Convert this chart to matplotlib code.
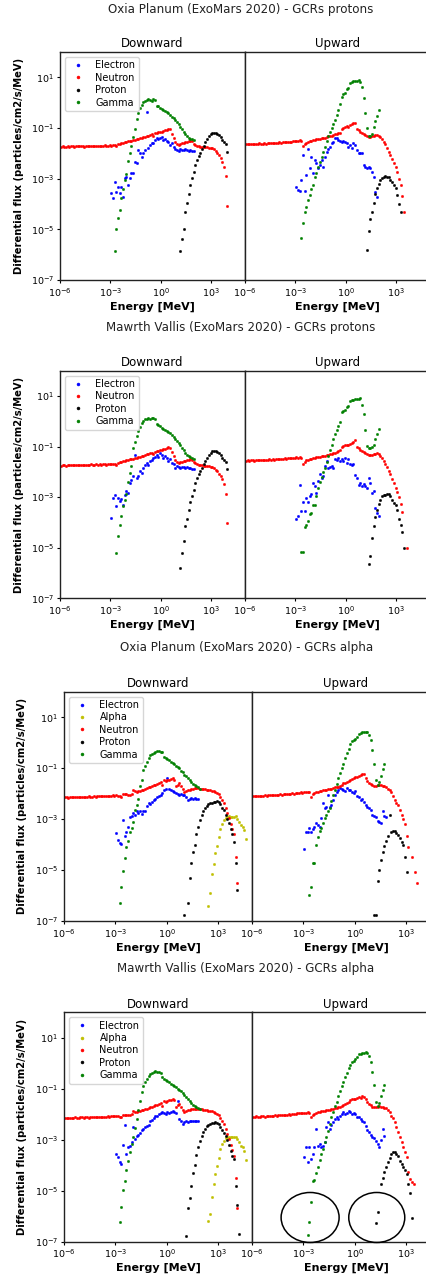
import numpy as np
import matplotlib
matplotlib.use("Agg")
import matplotlib.pyplot as plt
from matplotlib.patches import Ellipse
from matplotlib.ticker import NullLocator
import matplotlib.transforms as mtransforms

# ---------------------------------------------------------------------------
# DATA: each series = (log10 of first energy bin [MeV], log10 flux per 0.1-decade bin)
# None = empty bin (no point drawn)
# ---------------------------------------------------------------------------
BIN_WIDTH_DECADES = 0.1

# ---------- Oxia Planum - GCRs protons ----------
ox_p_down_electron = (-2.95, [-3.58, -3.78, -3.12, -3.51, -3.32, -3.58, -3.32, -3.71, -2.99, -2.92,
                              -3.25, -2.99, -2.79, -2.79, -2.33, -2.39, -1.87, -2.0, -2.13, -2.0,
                              -1.87, -0.38, -1.8, -1.67, -1.61, -1.58, -1.47, -1.41, -1.45, -1.41,
                              -1.37, -1.47, -1.45, -1.5, -1.54, -1.67, -1.61, -1.74, -1.84, -1.87,
                              -1.89, -1.84, -1.87, -1.87, -1.84, -1.87, -1.89, -1.87, -1.89, -1.92])
ox_p_down_neutron = (-5.95, [-1.74, -1.73, -1.75, -1.74, -1.72, -1.74, -1.73, -1.72, -1.74, -1.73,
                             -1.72, -1.73, -1.71, -1.72, -1.74, -1.72, -1.71, -1.73, -1.72, -1.71,
                             -1.72, -1.70, -1.71, -1.72, -1.70, -1.71, -1.69, -1.71, -1.70, -1.69,
                             -1.70, -1.68, -1.69, -1.72, -1.64, -1.62, -1.60, -1.58, -1.56, -1.55,
                             -1.52, -1.53, -1.50, -1.47, -1.46, -1.44, -1.42, -1.40, -1.38, -1.36,
                             -1.35, -1.30, -1.32, -1.26, -1.24, -1.30, -1.20, -1.18, -1.16, -1.14,
                             -1.15, -1.12, -1.08, -1.06, -1.03, -1.05, -1.25, -1.40, -1.55, -1.65,
                             -1.66, -1.62, -1.60, -1.58, -1.57, -1.55, -1.52, -1.50, -1.53, -1.62,
                             -1.68, -1.70, -1.72, -1.74, -1.74, -1.75, -1.76, -1.76, -1.77, -1.79,
                             -1.80, -1.84, -1.90, -1.97, -2.08, -2.20, -2.36, -2.55, -2.90, -4.07])
ox_p_down_proton = (1.15, [-5.85, -5.4, -5.0, -4.3, -3.95, -3.6, -3.25, -2.98, -2.72, -2.47,
                           -2.25, -2.1, -1.97, -1.84, -1.7, -1.57, -1.44, -1.32, -1.24, -1.2,
                           -1.2, -1.21, -1.22, -1.28, -1.36, -1.46, -1.55, -1.62, -1.93])
ox_p_down_gamma = (-2.75, [-5.86, -5.0, -4.57, -4.24, -3.75, -3.4, -3.05, -2.8, -2.3, -2.0,
                           -1.72, -1.36, -1.02, -0.66, -0.42, -0.22, -0.08, 0.02, 0.06, 0.1,
                           0.13, 0.12, 0.08, 0.13, 0.1, -0.12, -0.15, -0.2, -0.25, -0.3,
                           -0.33, -0.38, -0.42, -0.48, -0.55, -0.62, -0.7, -0.78, -0.85, -0.95,
                           -1.05, -1.15, -1.25, -1.32, -1.38, -1.42, -1.45, -1.48])

ox_p_up_electron = (-2.95, [-3.32, -3.45, -3.47, -3.05, -2.08, -3.49, -2.86, -1.83, -2.59, -2.16,
                            -2.79, -2.26, -2.39, -2.59, -2.46, -2.26, -2.53, -2.13, -1.93, -1.84,
                            -1.74, -1.61, -1.54, -1.41, -1.41, -1.47, -1.5, -1.54, -1.5, -1.54,
                            -1.61, -1.74, -1.67, -1.8, -1.61, -1.67, -1.87, -2.0, -2.0, -2.0,
                            -2.46, -2.53, -2.59, -2.53, -2.59, -2.72, -2.92, -3.51, -3.71])
ox_p_up_neutron = (-5.95, [-1.64, -1.65, -1.63, -1.64, -1.62, -1.63, -1.64, -1.62, -1.61, -1.63,
                           -1.62, -1.60, -1.62, -1.60, -1.61, -1.59, -1.60, -1.58, -1.60, -1.58,
                           -1.57, -1.58, -1.56, -1.57, -1.55, -1.56, -1.54, -1.55, -1.53, -1.52,
                           -1.52, -1.50, -1.48, -1.50, -1.71, -1.62, -1.58, -1.55, -1.52, -1.50,
                           -1.47, -1.48, -1.45, -1.44, -1.42, -1.41, -1.40, -1.38, -1.36, -1.33,
                           -1.32, -1.30, -1.28, -1.25, -1.22, -1.20, -1.18, -1.05, -1.00, -0.95,
                           -0.92, -0.96, -0.90, -0.85, -0.82, -0.79, -1.02, -1.08, -1.14, -1.18,
                           -1.22, -1.26, -1.32, -1.36, -1.37, -1.33, -1.30, -1.29, -1.28, -1.30,
                           -1.37, -1.45, -1.54, -1.65, -1.80, -1.93, -2.07, -2.22, -2.39, -2.55,
                           -2.72, -3.00, -3.25, -3.67, -4.30])
ox_p_up_proton = (1.25, [-5.82, -5.05, -4.6, -4.3, -3.95, -3.6, -3.35, -3.2, -3.05, -2.98,
                         -2.93, -2.9, -2.92, -2.95, -3.05, -3.15, -3.25, -3.35, -3.65, -4.0, -4.3])
ox_p_up_gamma = (-2.65, [-5.35, -4.74, -4.3, -4.1, -3.85, -3.65, -3.4, -3.25, -2.95, -2.78,
                         -2.55, -2.35, -2.13, -1.95, -1.74, -1.52, -1.32, -1.15, -1.0, -0.85,
                         -0.68, -0.5, -0.3, -0.05, 0.22, 0.36, 0.4, 0.52, 0.58, 0.78,
                         0.82, 0.84, 0.86, 0.87, 0.88, 0.8, 0.6, 0.2, -0.4, -1.0,
                         -1.3, -1.3, -1.22, -0.95, -0.72, -0.52, -0.3])

# ---------- Mawrth Vallis - GCRs protons ----------
mv_p_down_electron = (-2.95, [-3.83, -3.03, -2.9, -3.36, -3.03, -3.16, -3.09, -3.3, -2.9, -2.77,
                              -2.83, -2.44, -2.31, -2.17, -1.32, -2.24, -2.17, -1.98, -2.04, -1.84,
                              -1.71, -1.65, -1.71, -1.58, -1.55, -1.47, -1.42, -1.32, -1.42, -1.25,
                              -1.34, -1.45, -1.38, -1.47, -1.58, -1.51, -1.65, -1.69, -1.84, -1.78,
                              -1.82, -1.84, -1.79, -1.82, -1.84, -1.82, -1.84, -1.84, -1.87, -1.87])
mv_p_down_neutron = (-5.95, [-1.75, -1.74, -1.73, -1.75, -1.73, -1.74, -1.72, -1.73, -1.74, -1.72,
                             -1.73, -1.72, -1.72, -1.71, -1.73, -1.71, -1.72, -1.72, -1.70, -1.72,
                             -1.71, -1.70, -1.72, -1.70, -1.71, -1.69, -1.70, -1.71, -1.68, -1.70,
                             -1.69, -1.68, -1.70, -1.73, -1.65, -1.62, -1.61, -1.58, -1.57, -1.54,
                             -1.53, -1.51, -1.50, -1.48, -1.45, -1.45, -1.41, -1.40, -1.37, -1.37,
                             -1.34, -1.31, -1.30, -1.27, -1.25, -1.28, -1.21, -1.18, -1.17, -1.13,
                             -1.14, -1.11, -1.09, -1.05, -1.02, -1.06, -1.22, -1.38, -1.52, -1.63,
                             -1.65, -1.63, -1.61, -1.58, -1.56, -1.54, -1.52, -1.50, -1.52, -1.60,
                             -1.66, -1.69, -1.71, -1.73, -1.74, -1.76, -1.75, -1.77, -1.78, -1.80,
                             -1.81, -1.85, -1.91, -1.98, -2.07, -2.18, -2.30, -2.47, -2.87, -4.03])
mv_p_down_proton = (1.15, [-5.81, -5.19, -4.75, -4.16, -3.85, -3.5, -3.2, -2.95, -2.7, -2.45,
                           -2.25, -2.1, -1.97, -1.84, -1.7, -1.57, -1.44, -1.32, -1.24, -1.18,
                           -1.17, -1.18, -1.2, -1.26, -1.34, -1.44, -1.53, -1.6, -1.88])
mv_p_down_gamma = (-2.65, [-5.2, -4.52, -4.12, -3.76, -3.35, -3.1, -2.87, -2.4, -2.05, -1.76,
                           -1.06, -0.8, -0.6, -0.4, -0.22, -0.08, 0.02, 0.08, 0.1, 0.13,
                           0.1, 0.14, 0.12, 0.08, -0.1, -0.15, -0.2, -0.25, -0.3, -0.34,
                           -0.38, -0.43, -0.48, -0.55, -0.62, -0.7, -0.78, -0.86, -0.95, -1.05,
                           -1.15, -1.25, -1.32, -1.38, -1.42, -1.45, -1.48])

mv_p_up_electron = (-2.95, [-3.85, -3.76, -2.5, -3.53, -3.19, -3.53, -3.03, -3.19, -2.96, -2.87,
                            -2.44, -2.57, -2.84, -2.37, -2.08, -2.24, -2.17, -1.78, -1.58, -1.84,
                            -1.82, -1.78, -1.84, -1.51, -1.55, -1.47, -1.58, -1.51, -1.58, -1.45,
                            -1.65, -1.51, -1.69, -1.71, -1.69, -2.13, -2.24, -2.5, -2.44, -2.57,
                            -2.48, -2.57, -2.64, -2.24, -2.44, -2.83, -2.77, -3.43, -3.63, -3.76])
mv_p_up_neutron = (-5.95, [-1.56, -1.55, -1.57, -1.55, -1.54, -1.56, -1.55, -1.53, -1.54, -1.55,
                           -1.53, -1.54, -1.52, -1.53, -1.51, -1.52, -1.50, -1.52, -1.50, -1.49,
                           -1.50, -1.48, -1.49, -1.47, -1.48, -1.46, -1.47, -1.45, -1.44, -1.45,
                           -1.43, -1.44, -1.42, -1.45, -1.69, -1.60, -1.55, -1.52, -1.50, -1.48,
                           -1.46, -1.45, -1.43, -1.42, -1.40, -1.39, -1.38, -1.36, -1.35, -1.32,
                           -1.30, -1.28, -1.26, -1.24, -1.21, -1.18, -1.15, -1.02, -0.98, -0.94,
                           -0.92, -0.95, -0.88, -0.84, -0.80, -0.76, -1.00, -1.06, -1.12, -1.16,
                           -1.20, -1.24, -1.30, -1.33, -1.35, -1.32, -1.29, -1.28, -1.27, -1.30,
                           -1.38, -1.46, -1.56, -1.68, -1.82, -1.96, -2.10, -2.28, -2.45, -2.62,
                           -2.80, -3.00, -3.26, -3.60, None, None, -5.02])
mv_p_up_proton = (1.35, [-5.65, -5.34, -4.62, -4.16, -3.8, -3.5, -3.27, -3.1, -2.97, -2.93,
                         -2.9, -2.88, -2.87, -2.95, -3.12, -3.22, -3.3, -3.5, -3.85, -4.1,
                         -4.38, -5.0])
mv_p_up_gamma = (-2.65, [-5.15, -5.17, -4.18, -4.1, -3.95, -3.65, -3.63, -3.32, -3.3, -2.95,
                         -2.65, -2.4, -2.2, -2.0, -1.85, -1.6, -1.38, -1.15, -0.95, -0.72,
                         -0.52, -0.35, -0.2, -0.04, 0.38, 0.4, 0.45, 0.56, 0.62, 0.8,
                         0.84, 0.86, 0.87, 0.88, 0.9, 0.91, 0.65, 0.27, -0.33, -0.99,
                         -1.05, -1.05, -1.0, -0.95, -0.72, -0.52, -0.3])

# ---------- Oxia Planum - GCRs alpha ----------
ox_a_down_electron = (-2.95, [-3.56, -3.82, -3.95, -3.97, -3.03, -3.66, -3.5, -3.3, -2.9, -2.87,
                              -2.77, -2.83, -2.7, -2.77, -2.7, -2.8, -2.7, -2.67, -2.5, -2.38,
                              -2.4, -2.32, -2.25, -2.22, -2.14, -2.09, -2.05, -1.98, -1.85, -1.83,
                              -1.39, -1.83, -1.86, -1.9, -1.93, -1.96, -2.01, -2.07, -2.01, -2.07,
                              -2.05, -2.14, -2.26, -2.2, -2.18, -2.2, -2.18, -2.2, -2.22])
ox_a_down_alpha = (2.45, [-6.41, -5.9, -5.15, -4.75, -4.35, -4.05, -3.7, -3.4, -3.18, -3.05,
                          -2.95, -2.9, -2.88, -2.9, -2.92, -2.9, -2.88, -3.0, -3.12, -3.23,
                          -3.3, -3.43, -3.8])
ox_a_down_neutron = (-5.95, [-2.15, -2.14, -2.16, -2.14, -2.13, -2.15, -2.14, -2.13, -2.14, -2.12,
                             -2.13, -2.12, -2.14, -2.12, -2.11, -2.13, -2.12, -2.10, -2.12, -2.11,
                             -2.10, -2.11, -2.09, -2.10, -2.11, -2.08, -2.10, -2.09, -2.07, -2.09,
                             -2.06, -2.08, -2.10, -2.12, -2.01, -2.03, -2.02, -2.04, -2.05, -2.00,
                             -1.85, -1.90, -1.92, -1.90, -1.88, -1.86, -1.84, -1.80, -1.78, -1.76,
                             -1.74, -1.72, -1.67, -1.66, -1.64, -1.60, -1.56, -1.68, -1.46, -1.52,
                             -1.48, -1.45, -1.43, -1.39, -1.46, -1.72, -1.66, -1.59, -1.72, -1.83,
                             -1.92, -1.88, -1.86, -1.84, -1.82, -1.80, -1.79, -1.78, -1.79, -1.80,
                             -1.81, -1.82, -1.83, -1.84, -1.85, -1.86, -1.88, -1.90, -1.95, -1.98,
                             -2.02, -2.12, -2.25, -2.38, -2.55, -2.75, -2.95, -3.20, -3.40, -3.60,
                             -4.47, -5.52])
ox_a_down_proton = (1.05, [-6.77, None, -6.31, -5.3, -4.72, -4.3, -4.0, -3.6, -3.3, -3.05,
                           -2.85, -2.7, -2.58, -2.48, -2.42, -2.38, -2.35, -2.32, -2.31, -2.3,
                           -2.33, -2.4, -2.55, -2.66, -2.82, -2.98, -3.15, -3.4, -3.6, -3.88,
                           -4.74, -5.78])
ox_a_down_gamma = (-2.75, [-6.31, -5.65, -5.02, -4.54, -4.1, -3.85, -3.5, -3.35, -3.1, -2.65,
                           -2.45, -2.2, -1.7, -1.46, -1.09, -0.9, -0.75, -0.62, -0.5, -0.45,
                           -0.42, -0.38, -0.33, -0.32, -0.38, -0.35, -0.55, -0.6, -0.65, -0.7,
                           -0.75, -0.8, -0.85, -0.9, -0.95, -1.0, -1.1, -1.15, -1.25, -1.3,
                           -1.4, -1.48, -1.55, -1.62, -1.68, -1.72, -1.76, -1.8])

ox_a_up_electron = (-2.95, [-4.17, -3.49, -3.49, -3.36, -3.49, -3.4, -3.3, -3.16, -3.23, -3.3,
                            -2.97, -2.38, -2.58, -2.51, -2.05, -2.51, -2.45, -2.25, -2.05, -1.92,
                            -1.85, -1.79, -1.83, -1.85, -1.88, -1.79, -1.85, -1.85, -1.92, -1.98,
                            -1.88, -2.09, -2.12, -2.25, -2.22, -2.31, -2.45, -2.51, -2.58, -2.64,
                            -2.83, -2.87, -2.9, -3.06, -3.1, -3.14, -2.7, -2.87, -2.9])
ox_a_up_neutron = (-5.95, [-2.10, -2.09, -2.11, -2.09, -2.08, -2.10, -2.08, -2.07, -2.09, -2.07,
                           -2.06, -2.07, -2.05, -2.06, -2.04, -2.05, -2.03, -2.04, -2.02, -2.03,
                           -2.01, -2.02, -2.00, -1.99, -2.00, -1.98, -1.97, -1.98, -1.95, -1.96,
                           -1.94, -1.93, -1.92, -1.95, -2.14, -2.02, -1.98, -1.95, -1.92, -1.90,
                           -1.88, -1.87, -1.86, -1.85, -1.83, -1.82, -1.80, -1.78, -1.76, -1.75,
                           -1.74, -1.70, -1.65, -1.60, -1.58, -1.55, -1.50, -1.45, -1.43, -1.40,
                           -1.36, -1.33, -1.30, -1.28, -1.24, -1.22, -1.39, -1.50, -1.58, -1.62,
                           -1.68, -1.70, -1.70, -1.68, -1.66, -1.68, -1.70, -1.72, -1.75, -1.80,
                           -1.85, -1.95, -2.10, -2.25, -2.35, -2.44, -2.65, -2.84, -3.00, -3.19,
                           -3.66, -4.08, None, -4.47, None, -5.06, -5.50])
ox_a_up_proton = (1.15, [-6.75, -6.78, -5.43, -5.0, -4.6, -4.3, -4.05, -3.85, -3.65, -2.84,
                         -3.49, -3.45, -3.47, -3.55, -3.62, -3.75, -3.88, -4.02, -4.47, -5.06])
ox_a_up_gamma = (-2.65, [-5.98, -5.65, -4.74, -4.74, -4.0, -3.7, -3.45, -3.36, -3.15, -2.97,
                         -2.85, -2.7, -2.55, -2.3, -2.05, -1.85, -1.62, -1.4, -1.18, -1.0,
                         -0.82, -0.6, -0.4, -0.25, -0.05, 0.05, 0.1, 0.15, 0.22, 0.35,
                         0.38, 0.4, 0.42, 0.43, 0.42, 0.3, 0.1, -0.3, -0.85, -1.45,
                         -1.65, -1.55, -1.3, -1.05, -0.85])

# ---------- Mawrth Vallis - GCRs alpha ----------
mv_a_down_electron = (-2.95, [-3.56, -3.69, -3.88, -3.95, -3.2, -2.44, -3.56, -3.3, -3.23, -3.1,
                              -2.5, -2.97, -2.87, -2.8, -2.72, -2.63, -2.58, -2.5, -2.45, -2.44,
                              -2.28, -2.22, -2.15, -2.08, -2.05, -1.98, -1.96, -1.92, -1.96, -2.0,
                              -1.92, -1.96, -1.92, -1.88, -1.92, -1.96, -1.49, -2.18, -2.25, -2.38,
                              -2.3, -2.25, -2.32, -2.28, -2.26, -2.28, -2.25, -2.28, -2.28])
mv_a_down_alpha = (2.45, [-6.18, -5.9, -5.26, -4.74, -4.35, -4.02, -3.7, -3.36, -3.15, -3.03,
                          -2.95, -2.9, -2.88, -2.88, -2.9, -2.88, -2.88, -2.98, -3.1, -3.23,
                          -3.3, -3.43, -3.79])
mv_a_down_neutron = (-5.95, [-2.14, -2.15, -2.13, -2.14, -2.15, -2.13, -2.12, -2.14, -2.13, -2.12,
                             -2.12, -2.13, -2.11, -2.12, -2.13, -2.11, -2.10, -2.12, -2.11, -2.10,
                             -2.11, -2.09, -2.10, -2.11, -2.09, -2.08, -2.10, -2.08, -2.07, -2.08,
                             -2.07, -2.06, -2.09, -2.12, -2.02, -2.04, -2.01, -2.03, -2.04, -1.98,
                             -1.86, -1.91, -1.90, -1.89, -1.87, -1.85, -1.83, -1.81, -1.79, -1.75,
                             -1.73, -1.71, -1.68, -1.65, -1.63, -1.61, -1.57, -1.66, -1.47, -1.50,
                             -1.49, -1.46, -1.44, -1.40, -1.43, -1.70, -1.65, -1.60, -1.70, -1.82,
                             -1.90, -1.87, -1.85, -1.83, -1.81, -1.80, -1.78, -1.78, -1.80, -1.81,
                             -1.80, -1.82, -1.83, -1.85, -1.86, -1.87, -1.89, -1.91, -1.94, -1.99,
                             -2.04, -2.13, -2.26, -2.40, -2.56, -2.76, -2.97, -3.22, -3.42, -3.62,
                             -4.50, -5.68])
mv_a_down_proton = (1.15, [-6.77, -5.68, -5.3, -4.8, -4.3, -4.0, -3.6, -3.3, -3.05, -2.85,
                           -2.7, -2.58, -2.48, -2.42, -2.38, -2.35, -2.33, -2.32, -2.35, -2.4,
                           -2.5, -2.6, -2.72, -2.85, -3.0, -3.2, -3.45, -3.65, -3.75, -4.8,
                           -5.55, -6.68])
mv_a_down_gamma = (-2.75, [-6.24, -5.65, -4.96, -4.63, -4.2, -3.82, -3.5, -3.16, -2.88, -2.55,
                           -2.2, -1.85, -1.49, -1.13, -0.9, -0.75, -0.6, -0.48, -0.42, -0.38,
                           -0.35, -0.32, -0.36, -0.34, -0.4, -0.55, -0.6, -0.65, -0.7, -0.75,
                           -0.8, -0.85, -0.9, -0.95, -1.0, -1.05, -1.1, -1.18, -1.25, -1.32,
                           -1.4, -1.48, -1.55, -1.62, -1.68, -1.72, -1.76, -1.8])

mv_a_up_electron = (-2.95, [-3.69, -3.3, -3.88, -3.3, -3.76, -3.56, -3.3, -2.57, -3.23, -3.16,
                            -3.3, -3.23, -3.1, -2.5, -2.31, -2.57, -2.44, -2.31, -2.18, -2.1,
                            -2.2, -2.05, -2.0, -1.92, -2.0, -1.95, -1.88, -1.92, -1.98, -1.95,
                            -2.0, -2.09, -2.12, -2.18, -2.25, -2.3, -2.45, -2.6, -2.7, -2.8,
                            -2.88, -2.93, -3.03, -3.15, -3.27, -3.0, -2.57, -2.84])
mv_a_up_neutron = (-5.95, [-2.09, -2.10, -2.08, -2.09, -2.10, -2.08, -2.07, -2.09, -2.08, -2.06,
                           -2.07, -2.05, -2.06, -2.04, -2.05, -2.03, -2.04, -2.02, -2.03, -2.01,
                           -2.02, -2.00, -2.01, -1.99, -1.98, -1.99, -1.97, -1.96, -1.97, -1.95,
                           -1.94, -1.95, -1.92, -1.94, -2.12, -2.03, -1.99, -1.96, -1.93, -1.91,
                           -1.89, -1.88, -1.86, -1.85, -1.84, -1.82, -1.81, -1.79, -1.77, -1.76,
                           -1.73, -1.70, -1.66, -1.62, -1.59, -1.55, -1.50, -1.46, -1.42, -1.39,
                           -1.40, -1.35, -1.32, -1.36, -1.30, -1.33, -1.42, -1.52, -1.60, -1.64,
                           -1.70, -1.72, -1.71, -1.70, -1.68, -1.70, -1.71, -1.74, -1.77, -1.82,
                           -1.92, -2.05, -2.14, -2.31, -2.50, -2.70, -2.90, -3.10, -3.30, -3.49,
                           -3.69, -4.28, -4.55, -4.67, -4.75])
mv_a_up_proton = (1.25, [-6.27, -5.85, None, -4.74, -4.5, -4.28, -4.05, -3.88, -3.7, -3.56,
                         -3.49, -3.5, -3.55, -3.65, -3.82, -3.95, -4.05, -4.2, -4.34, -4.74,
                         -5.1, -6.07])
mv_a_up_gamma = (-2.75, [-6.74, -6.24, -5.43, -4.63, -4.58, -4.3, -4.08, -3.8, -3.56, -3.35,
                         -3.1, -2.88, -2.64, -2.38, -2.12, -1.9, -1.66, -1.5, -1.3, -1.1,
                         -0.9, -0.72, -0.55, -0.38, -0.2, -0.05, 0.05, 0.1, 0.16, 0.25,
                         0.35, 0.38, 0.4, 0.42, 0.43, 0.42, 0.3, 0.05, -0.35, -0.85,
                         -1.5, -1.68, -1.55, -1.3, -1.05, -0.85])

panel_titles = ["Oxia Planum (ExoMars 2020) - GCRs protons",
                "Mawrth Vallis (ExoMars 2020) - GCRs protons",
                "Oxia Planum (ExoMars 2020) - GCRs alpha",
                "Mawrth Vallis (ExoMars 2020) - GCRs alpha"]
direction_titles = ["Downward", "Upward"]
x_ticks = [1e-6, 1e-3, 1e0, 1e3]
y_ticks = [1e1, 1e-1, 1e-3, 1e-5, 1e-7]

panel_data = [
    ([("Electron", ox_p_down_electron), ("Neutron", ox_p_down_neutron),
      ("Proton", ox_p_down_proton), ("Gamma", ox_p_down_gamma)],
     [("Electron", ox_p_up_electron), ("Neutron", ox_p_up_neutron),
      ("Proton", ox_p_up_proton), ("Gamma", ox_p_up_gamma)]),
    ([("Electron", mv_p_down_electron), ("Neutron", mv_p_down_neutron),
      ("Proton", mv_p_down_proton), ("Gamma", mv_p_down_gamma)],
     [("Electron", mv_p_up_electron), ("Neutron", mv_p_up_neutron),
      ("Proton", mv_p_up_proton), ("Gamma", mv_p_up_gamma)]),
    ([("Electron", ox_a_down_electron), ("Alpha", ox_a_down_alpha), ("Neutron", ox_a_down_neutron),
      ("Proton", ox_a_down_proton), ("Gamma", ox_a_down_gamma)],
     [("Electron", ox_a_up_electron), ("Neutron", ox_a_up_neutron),
      ("Proton", ox_a_up_proton), ("Gamma", ox_a_up_gamma)]),
    ([("Electron", mv_a_down_electron), ("Alpha", mv_a_down_alpha), ("Neutron", mv_a_down_neutron),
      ("Proton", mv_a_down_proton), ("Gamma", mv_a_down_gamma)],
     [("Electron", mv_a_up_electron), ("Neutron", mv_a_up_neutron),
      ("Proton", mv_a_up_proton), ("Gamma", mv_a_up_gamma)]),
]

# ---------------------------------------------------------------------------
# STYLE / LAYOUT
# ---------------------------------------------------------------------------
colors = {"Electron": "b", "Alpha": "y", "Neutron": "r", "Proton": "k", "Gamma": "g"}
W, H = 427, 1275
# (left, split, top, bottom) in pixels; suptitle (x, y) in pixels
layout = [
    dict(L=60, M=245, T=52, B=280, tx=240.5, ty=10),
    dict(L=60, M=245, T=370.7, B=598.3, tx=240.5, ty=327.3),
    dict(L=64, M=252, T=691.7, B=921, tx=246.5, ty=647.3),
    dict(L=64, M=252, T=1012.3, B=1241.7, tx=246, ty=968.3),
]

plt.rcParams['font.family'] = ['DejaVu Sans']
fig = plt.figure(figsize=(W / 100, H / 100), dpi=100)
fig.patch.set_facecolor('white')


def draw_series(ax, name, series):
    start, vals = series
    logy = np.array([np.nan if v is None else v for v in vals], dtype=float)
    logx = start + BIN_WIDTH_DECADES * np.arange(len(logy))
    ax.plot(10 ** logx, 10 ** logy, linestyle='none', marker='.', ms=3.2, mew=0.4,
            color=colors[name], label=name)


axes_up = []
for i, (lay, (down, up)) in enumerate(zip(layout, panel_data)):
    L, M, T, B = lay['L'], lay['M'], lay['T'], lay['B']
    w = (M - L) / W
    h = (B - T) / H
    bottom = 1 - B / H
    ax1 = fig.add_axes([L / W, bottom, w, h])
    ax2 = fig.add_axes([M / W, bottom, w, h], sharey=ax1)
    for ax, ser, ttl in ((ax1, down, direction_titles[0]), (ax2, up, direction_titles[1])):
        for name, s in ser:
            draw_series(ax, name, s)
        ax.set_xscale('log')
        ax.set_yscale('log')
        ax.set_xlim(1e-6, 1e5)
        ax.set_ylim(1e-7, 1e2)
        ax.set_xticks(x_ticks)
        ax.xaxis.set_minor_locator(NullLocator())
        ax.set_title(ttl, fontsize=8.5, pad=3.4)
        ax.set_xlabel('Energy [MeV]', fontsize=8, fontweight='bold', labelpad=2)
        ax.tick_params(labelsize=6.8, length=2.5, pad=1.8, width=0.8)
        for sp in ax.spines.values():
            sp.set_linewidth(1.0)
            sp.set_color('#222222')
    ax1.set_yticks(y_ticks)
    ax1.yaxis.set_minor_locator(NullLocator())
    ax1.set_ylabel('Differential flux (particles/cm2/s/MeV)', fontsize=7.2, fontweight='bold')
    ax1.yaxis.set_label_coords(-0.197, 0.5)
    ax2.tick_params(axis='y', which='both', left=False, labelleft=False)
    leg = ax1.legend(loc='upper left', fontsize=7, labelspacing=0.25, borderpad=0.35,
                     handletextpad=0.8, handlelength=2.0, markerscale=1.3)
    fig.text(lay['tx'] / W, 1 - lay['ty'] / H, panel_titles[i], ha='center', va='center',
             fontsize=8.6, color='#222222')
    axes_up.append(ax2)

# annotation circles on the last upward panel (centre in data coords, size in inches)
ax_c = axes_up[3]
for cx, cy, cw, ch in ((10 ** -2.6, 10 ** -6.05, 0.58, 0.50),
                       (10 ** 1.3, 10 ** -6.05, 0.56, 0.50)):
    tr = fig.dpi_scale_trans + mtransforms.ScaledTranslation(cx, cy, ax_c.transData)
    e = Ellipse((0, 0), cw, ch, transform=tr, fill=False, edgecolor='k', linewidth=1.1,
                clip_on=False)
    fig.add_artist(e)

fig.savefig('out.png', dpi=100, facecolor='white')
